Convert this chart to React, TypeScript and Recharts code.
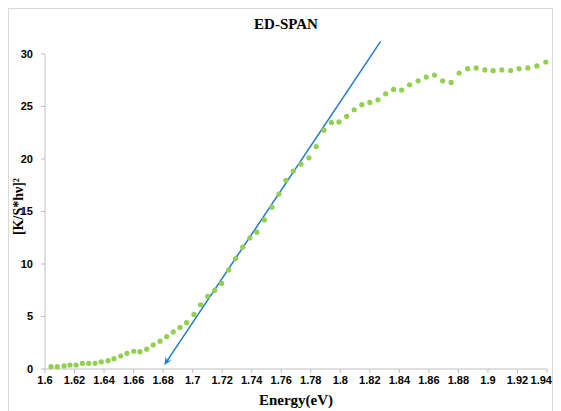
import { ScatterChart, Scatter, XAxis, YAxis, ReferenceLine, Label } from 'recharts'

// photon energy (eV) and [K/S*hv]^2
const energy = [
  1.6041, 1.6083, 1.6129, 1.6169, 1.621, 1.6253, 1.6296, 1.6339, 1.6381, 1.6427,
  1.6467, 1.6513, 1.6555, 1.6601, 1.6643, 1.6689, 1.6733, 1.6779, 1.6824, 1.6869,
  1.6914, 1.6959, 1.7009, 1.7054, 1.7102, 1.7149, 1.7196, 1.7244, 1.7291, 1.7339,
  1.7388, 1.7435, 1.7486, 1.7537, 1.7584, 1.7632, 1.7681, 1.7733, 1.7788, 1.7837,
  1.7889, 1.794, 1.7991, 1.8043, 1.8094, 1.8146, 1.82, 1.8255, 1.8307, 1.8361,
  1.8415, 1.8469, 1.8527, 1.8582, 1.8638, 1.8693, 1.8751, 1.8805, 1.8862, 1.892,
  1.8979, 1.9035, 1.9094, 1.9153, 1.9211, 1.927, 1.9331, 1.9392,
]
const ksHv = [
  0.22, 0.22, 0.29, 0.38, 0.38, 0.54, 0.54, 0.54, 0.67, 0.79,
  0.98, 1.24, 1.49, 1.69, 1.65, 1.89, 2.29, 2.65, 3.08, 3.53,
  3.96, 4.41, 5.2, 6.12, 6.93, 7.48, 8.15, 9.44, 10.52, 11.6,
  12.49, 13.03, 14.2, 15.41, 16.66, 17.97, 18.85, 19.51, 20.11, 21.19,
  22.75, 23.48, 23.53, 24.06, 24.69, 25.17, 25.39, 25.64, 26.21, 26.63,
  26.57, 27.07, 27.45, 27.8, 27.99, 27.45, 27.29, 28.19, 28.6, 28.67,
  28.48, 28.41, 28.48, 28.41, 28.6, 28.67, 28.86, 29.24,
]

// linear fit, drawn as an arrow pointing down to the x-axis
const fitEnergy = [1.6808, 1.8273]
const fitValue = [0.38, 31.2]

const xTicks = [
  1.6, 1.62, 1.64, 1.66, 1.68, 1.7, 1.72, 1.74, 1.76, 1.78,
  1.8, 1.82, 1.84, 1.86, 1.88, 1.9, 1.92, 1.94,
]
const yTicks = [0, 5, 10, 15, 20, 25, 30]

const points = energy.map((x, i) => ({ x, y: ksHv[i] }))

const SERIF = '"Liberation Serif", "DejaVu Serif", serif'
const SANS = '"Liberation Sans", Arial, sans-serif'
const tickStyle = { fontSize: 11, fontWeight: 700, fill: '#000', fontFamily: SANS }

function Dot(props: any) {
  return <circle cx={props.cx} cy={props.cy} r={2.6} fill="#92d050" />
}

// last label is nudged left so it stays inside the frame
function XTick(props: any) {
  const { x, y, payload, index } = props
  const label = String(Number(Number(payload.value).toFixed(2)))
  const last = index === xTicks.length - 1
  return (
    <text
      x={last ? x + 5 : x}
      y={y}
      dy="0.71em"
      textAnchor={last ? 'end' : 'middle'}
      fontSize={11}
      fontWeight={700}
      fontFamily={SANS}
      fill="#000"
    >
      {label}
    </text>
  )
}

function ArrowLine(props: any) {
  const { x1, y1, x2, y2 } = props
  const dx = x1 - x2
  const dy = y1 - y2
  const len = Math.hypot(dx, dy) || 1
  const ux = dx / len
  const uy = dy / len
  const px = -uy
  const py = ux
  const back = 8
  const half = 3.6
  const notch = 5
  const d = `M${x1},${y1} L${x1 - ux * back + px * half},${y1 - uy * back + py * half} L${x1 - ux * notch},${y1 - uy * notch} L${x1 - ux * back - px * half},${y1 - uy * back - py * half} Z`
  return (
    <g>
      <line x1={x1 - ux * notch} y1={y1 - uy * notch} x2={x2} y2={y2} stroke="#1f7bd0" strokeWidth={1.5} />
      <path d={d} fill="#1f7bd0" />
    </g>
  )
}

function XTitle(props: any) {
  const vb = props.viewBox
  return (
    <text
      x={vb.x + vb.width / 2}
      y={vb.y + 36}
      textAnchor="middle"
      fontFamily={SERIF}
      fontWeight={700}
      fontSize={15}
      fill="#000"
    >
      Energy(eV)
    </text>
  )
}

function YTitle(props: any) {
  const vb = props.viewBox
  const cx = 9
  const cy = vb.y + vb.height / 2 - 5
  return (
    <text
      x={cx}
      y={cy}
      transform={`rotate(-90 ${cx} ${cy})`}
      textAnchor="middle"
      dominantBaseline="central"
      fontFamily={SERIF}
      fontWeight={700}
      fontSize={14}
      fill="#000"
    >
      [K/S*hν]²
    </text>
  )
}

export default function App() {
  return (
    <div
      style={{
        position: 'relative',
        width: 545,
        height: 420,
        boxSizing: 'border-box',
        border: '1px solid #d9d9d9',
      }}
    >
      <style>{'html,body{overflow:hidden} .recharts-surface{overflow:visible}'}</style>
      <div
        style={{
          position: 'absolute',
          top: 6,
          left: 0,
          width: 554,
          textAlign: 'center',
          fontFamily: SERIF,
          fontWeight: 700,
          fontSize: 15,
          lineHeight: '18px',
          color: '#000',
        }}
      >
        ED-SPAN
      </div>
      <ScatterChart width={543} height={410} margin={{ top: 45, right: 5, bottom: 8, left: 0 }}>
        <XAxis
          type="number"
          dataKey="x"
          domain={[1.6, 1.94]}
          ticks={xTicks}
          interval={0}
          height={42}
          tickSize={4}
          tickMargin={3}
          stroke="#bfbfbf"
          tick={XTick}
        >
          <Label content={XTitle} />
        </XAxis>
        <YAxis
          type="number"
          dataKey="y"
          domain={[0, 30]}
          ticks={yTicks}
          interval={0}
          width={36}
          tickSize={4}
          tickMargin={8}
          stroke="#bfbfbf"
          tick={tickStyle}
        >
          <Label content={YTitle} />
        </YAxis>
        <Scatter data={points} shape={Dot} isAnimationActive={false} />
        <ReferenceLine
          segment={[
            { x: fitEnergy[0], y: fitValue[0] },
            { x: fitEnergy[1], y: fitValue[1] },
          ]}
          ifOverflow="visible"
          shape={ArrowLine}
        />
      </ScatterChart>
    </div>
  )
}
